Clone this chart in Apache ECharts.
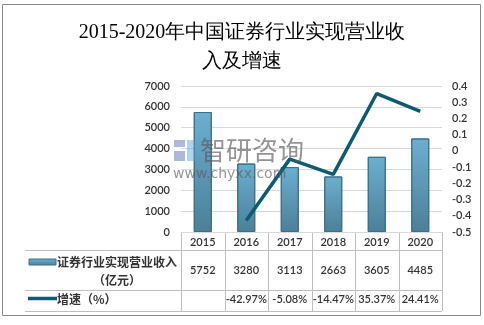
<!DOCTYPE html>
<html><head><meta charset="utf-8">
<script src="https://cdn.jsdelivr.net/npm/echarts@6/dist/echarts.min.js"></script>
<style>html,body{margin:0;padding:0;background:#fff}#c{width:484px;height:325px}</style>
</head><body><div id="c"></div>
<script>
const categories = ['2015','2016','2017','2018','2019','2020'];
const revenue = [5752, 3280, 3113, 2663, 3605, 4485];
const growth = [null, -0.4297, -0.0508, -0.1447, 0.3537, 0.2441];
const revenueLabels = ['5752','3280','3113','2663','3605','4485'];
const growthLabels = ['', '-42.97%', '-5.08%', '-14.47%', '35.37%', '24.41%'];
const seriesNames = ['证券行业实现营业收入（亿元）', '增速（%）'];
const titleText = '2015-2020年中国证券行业实现营业收\n入及增速';

const G = {left:181, right:42, top:86, bottom:93};
const chart = echarts.init(document.getElementById('c'));
const lblFont = {fontFamily:'Lato, "Noto Sans CJK SC"', fontSize:11, color:'#333', fontWeight:600};

chart.setOption({
  animation:false,
  backgroundColor:'#fff',
  title:{text:titleText, left:'center', top:13, textStyle:{fontFamily:'"Liberation Serif", "DejaVu Serif", serif', fontSize:20, fontWeight:'normal', color:'#000', lineHeight:29}},
  grid:G,
  xAxis:{type:'category', data:categories, axisLine:{show:true, lineStyle:{color:'#d9d9d9'}}, axisTick:{show:false},
    axisLabel:Object.assign({margin:5}, lblFont, {fontWeight:600})},
  yAxis:[
    {type:'value', min:0, max:7000, interval:1000, axisLabel:Object.assign({margin:11, formatter:v=>String(v)}, lblFont), splitLine:{lineStyle:{color:'#d9d9d9'}}, axisLine:{show:false}},
    {type:'value', min:-0.5, max:0.4, interval:0.1, axisLabel:Object.assign({margin:10, formatter:v=>String(Math.round(v*10)/10)}, lblFont), splitLine:{show:false}, axisLine:{show:false}}
  ],
  series:[
    {name:seriesNames[0], type:'bar', data:revenue, barWidth:18, yAxisIndex:0,
      itemStyle:{borderColor:'#3b6f86', borderWidth:1,
        color:new echarts.graphic.LinearGradient(0,0,0,1,[{offset:0,color:'#6cafd0'},{offset:1,color:'#4d7f97'}])}},
    {name:seriesNames[1], type:'line', data:growth, yAxisIndex:1, symbol:'none', connectNulls:false,
      lineStyle:{color:'#0e5a70', width:3.5}, z:5}
  ]
});

const gl = G.left, gr = 484 - G.right;
const yTop = 325 - G.bottom;
const yRow1 = 250, yRow2 = 290, yEnd = 311;
const colW = (gr - gl) / categories.length;
const lc = '#bfbfbf';
const els = [];
els.push({type:'rect', shape:{x:2.5, y:4.5, width:478, height:311}, style:{fill:'none', stroke:'#8a8a8a', lineWidth:1}, silent:true});
[yRow1, yRow2, yEnd].forEach(y=>els.push({type:'line', shape:{x1:25, y1:y+0.5, x2:gr, y2:y+0.5}, style:{stroke:lc, lineWidth:1}}));
for (let i=0;i<=categories.length;i++){
  const x = Math.round(gl + i*colW)+0.5;
  els.push({type:'line', shape:{x1:x, y1:yTop, x2:x, y2:yEnd}, style:{stroke:lc, lineWidth:1}});
}
categories.forEach((c,i)=>{
  const cx = chart.convertToPixel({xAxisIndex:0}, c);
  els.push({type:'text', style:{text:revenueLabels[i], x:cx, y:270, textAlign:'center', textVerticalAlign:'middle', fill:'#333', font:'600 11px Lato'}});
  els.push({type:'text', style:{text:growthLabels[i], x:cx, y:299.5, textAlign:'center', textVerticalAlign:'middle', fill:'#333', font:'600 11px Lato'}});
});
const keyGrad = new echarts.graphic.LinearGradient(0,0,0,1,[{offset:0,color:'#6cafd0'},{offset:1,color:'#4d7f97'}]);
els.push({type:'rect', shape:{x:29, y:259, width:27, height:6}, style:{fill:keyGrad, stroke:'#3b6f86', lineWidth:1}});
els.push({type:'text', style:{text:'证券行业实现营业收入', x:57, y:262, textVerticalAlign:'middle', fill:'#333', font:'600 12px "Noto Sans CJK SC"'}});
els.push({type:'text', style:{text:'（亿元）', x:117, y:280, textAlign:'center', textVerticalAlign:'middle', fill:'#333', font:'600 12px "Noto Sans CJK SC"'}});
els.push({type:'line', shape:{x1:28, y1:298.5, x2:57, y2:298.5}, style:{stroke:'#0e5a70', lineWidth:3.5}});
els.push({type:'text', style:{text:'增速（%）', x:57, y:299, textVerticalAlign:'middle', fill:'#333', font:'600 12px "Noto Sans CJK SC"'}});
els.push({type:'rect', shape:{x:174, y:140, width:11, height:7}, style:{fill:'rgba(70,100,170,0.45)'}, z:10});
els.push({type:'rect', shape:{x:174, y:151, width:11, height:10}, style:{fill:'rgba(70,100,170,0.45)'}, z:10});
els.push({type:'rect', shape:{x:187, y:140, width:8, height:21}, style:{fill:'rgba(80,160,210,0.45)'}, z:10});
els.push({type:'text', style:{text:'智研咨询', x:200, y:150, textVerticalAlign:'middle', fill:'rgba(90,90,90,0.65)', font:'26px "Noto Sans CJK SC"'}, z:10});
els.push({type:'text', style:{text:'www.chyxx.com', x:173, y:174, textVerticalAlign:'middle', fill:'rgba(90,90,90,0.65)', font:'14px "DejaVu Sans"'}, z:10});
chart.setOption({graphic:els});
</script></body></html>
